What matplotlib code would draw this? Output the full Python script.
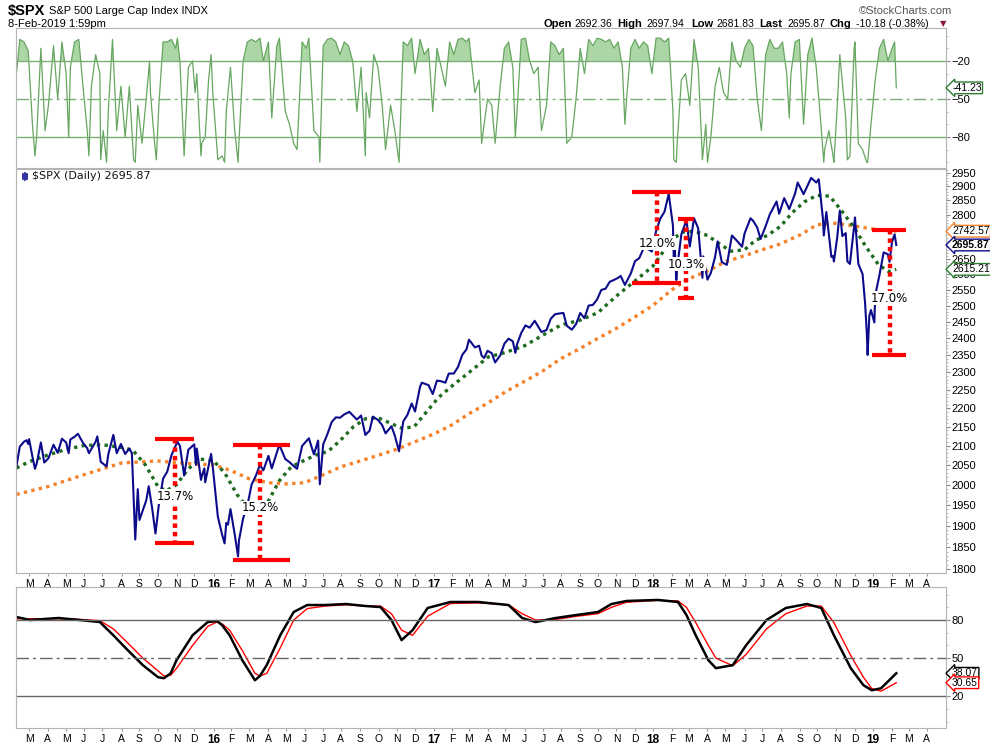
import numpy as np
import matplotlib.pyplot as plt
import matplotlib.ticker as mticker
import matplotlib.transforms as mtrans

plt.rcParams['font.family'] = ['Liberation Sans', 'DejaVu Sans']

# ---- price (close, with a few daily extremes) ----
price_dates = [
    "2015-02-09", "2015-02-13", "2015-02-20", "2015-02-25", "2015-02-27", "2015-03-02", "2015-03-06", "2015-03-11",
    "2015-03-13", "2015-03-20", "2015-03-26", "2015-04-02", "2015-04-10", "2015-04-17", "2015-04-24", "2015-05-01",
    "2015-05-06", "2015-05-08", "2015-05-15", "2015-05-21", "2015-05-29", "2015-06-05", "2015-06-09", "2015-06-19",
    "2015-06-23", "2015-06-29", "2015-07-08", "2015-07-10", "2015-07-20", "2015-07-24", "2015-07-31", "2015-08-07",
    "2015-08-14", "2015-08-19", "2015-08-21", "2015-08-25", "2015-08-28", "2015-09-01", "2015-09-11", "2015-09-16",
    "2015-09-22", "2015-09-28", "2015-10-02", "2015-10-09", "2015-10-16", "2015-10-23", "2015-11-03", "2015-11-06",
    "2015-11-13", "2015-11-20", "2015-12-01", "2015-12-03", "2015-12-04", "2015-12-11", "2015-12-14", "2015-12-17",
    "2015-12-18", "2015-12-29", "2015-12-31",
    "2016-01-08", "2016-01-15", "2016-01-20", "2016-01-22", "2016-01-26", "2016-01-29", "2016-02-05", "2016-02-11",
    "2016-02-12", "2016-02-19", "2016-02-26", "2016-03-04", "2016-03-11", "2016-03-18", "2016-03-24", "2016-04-01",
    "2016-04-07", "2016-04-15", "2016-04-20", "2016-04-29", "2016-05-06", "2016-05-13", "2016-05-19", "2016-05-27",
    "2016-06-08", "2016-06-16", "2016-06-23", "2016-06-27", "2016-07-01", "2016-07-08", "2016-07-15", "2016-07-22",
    "2016-07-29", "2016-08-05", "2016-08-15", "2016-08-26", "2016-09-02", "2016-09-09", "2016-09-16", "2016-09-22",
    "2016-09-30", "2016-10-07", "2016-10-13", "2016-10-24", "2016-10-28", "2016-11-04", "2016-11-11", "2016-11-18",
    "2016-11-25", "2016-12-01", "2016-12-09", "2016-12-13", "2016-12-23", "2016-12-30",
    "2017-01-06", "2017-01-13", "2017-01-20", "2017-01-26", "2017-02-03", "2017-02-10", "2017-02-17", "2017-02-24",
    "2017-03-01", "2017-03-10", "2017-03-17", "2017-03-22", "2017-03-27", "2017-03-31", "2017-04-07", "2017-04-13",
    "2017-04-21", "2017-04-28", "2017-05-05", "2017-05-12", "2017-05-17", "2017-05-19", "2017-05-26", "2017-06-02",
    "2017-06-09", "2017-06-19", "2017-06-29", "2017-07-07", "2017-07-14", "2017-07-21", "2017-07-27", "2017-08-04",
    "2017-08-10", "2017-08-18", "2017-08-25", "2017-09-01", "2017-09-08", "2017-09-15", "2017-09-22", "2017-09-29",
    "2017-10-06", "2017-10-13", "2017-10-20", "2017-10-27", "2017-11-03", "2017-11-08", "2017-11-15", "2017-11-24",
    "2017-12-01", "2017-12-08", "2017-12-18", "2017-12-22", "2017-12-29",
    "2018-01-05", "2018-01-12", "2018-01-19", "2018-01-26", "2018-02-02", "2018-02-05", "2018-02-06", "2018-02-08",
    "2018-02-09", "2018-02-16", "2018-02-26", "2018-03-02", "2018-03-09", "2018-03-16", "2018-03-23", "2018-03-26",
    "2018-04-02", "2018-04-06", "2018-04-13", "2018-04-18", "2018-04-25", "2018-05-03", "2018-05-11", "2018-05-18",
    "2018-05-29", "2018-06-01", "2018-06-12", "2018-06-15", "2018-06-22", "2018-06-28", "2018-07-06", "2018-07-13",
    "2018-07-25", "2018-07-30", "2018-08-07", "2018-08-15", "2018-08-24", "2018-08-29", "2018-09-07", "2018-09-14",
    "2018-09-20", "2018-09-28", "2018-10-03", "2018-10-10", "2018-10-11", "2018-10-16", "2018-10-24", "2018-10-26",
    "2018-10-29", "2018-11-02", "2018-11-07", "2018-11-12", "2018-11-16", "2018-11-20", "2018-11-23", "2018-11-30",
    "2018-12-03", "2018-12-07", "2018-12-14", "2018-12-19", "2018-12-21", "2018-12-24", "2018-12-26", "2018-12-28",
    "2019-01-03", "2019-01-04", "2019-01-11", "2019-01-18", "2019-01-25", "2019-01-29", "2019-02-01", "2019-02-06",
    "2019-02-08"]
price_close = [
    2046, 2097, 2110, 2114, 2104, 2117, 2071, 2040,
    2053, 2108, 2056, 2067, 2102, 2081, 2118, 2108,
    2080, 2116, 2123, 2131, 2107, 2093, 2080, 2110,
    2124, 2058, 2046, 2077, 2128, 2080, 2104, 2078,
    2092, 2080, 1971, 1868, 1989, 1914, 1961, 1996,
    1943, 1882, 1951, 2015, 2033, 2075, 2110, 2099,
    2023, 2089, 2103, 2050, 2092, 2012, 2022, 2041,
    2006, 2078, 2044,
    1922, 1880, 1859, 1907, 1903, 1940, 1880, 1829,
    1865, 1918, 1948, 2000, 2022, 2050, 2036, 2073,
    2041, 2081, 2102, 2065, 2057, 2047, 2040, 2099,
    2119, 2077, 2113, 2001, 2103, 2130, 2162, 2175,
    2174, 2183, 2190, 2169, 2180, 2128, 2139, 2177,
    2168, 2154, 2132, 2151, 2126, 2085, 2164, 2182,
    2213, 2191, 2260, 2271, 2264, 2239,
    2277, 2275, 2271, 2297, 2297, 2316, 2351, 2367,
    2396, 2373, 2378, 2349, 2342, 2363, 2356, 2329,
    2349, 2384, 2399, 2391, 2357, 2382, 2416, 2439,
    2432, 2453, 2419, 2425, 2459, 2473, 2475, 2477,
    2438, 2426, 2443, 2477, 2461, 2500, 2502, 2519,
    2549, 2553, 2575, 2581, 2588, 2594, 2565, 2602,
    2642, 2652, 2690, 2683, 2674,
    2743, 2786, 2810, 2873, 2762, 2649, 2695, 2581,
    2620, 2732, 2780, 2691, 2787, 2752, 2588, 2658,
    2582, 2604, 2656, 2708, 2639, 2630, 2728, 2713,
    2690, 2735, 2787, 2779, 2755, 2716, 2760, 2801,
    2846, 2803, 2858, 2819, 2875, 2914, 2872, 2905,
    2931, 2914, 2926, 2785, 2728, 2809, 2656, 2659,
    2641, 2723, 2814, 2726, 2736, 2641, 2633, 2760,
    2790, 2633, 2600, 2507, 2417, 2351, 2468, 2486,
    2448, 2532, 2596, 2671, 2665, 2640, 2707, 2732,
    2695.87]

# ---- moving averages ----
ma50_dates = [
    "2015-02-09", "2015-03-01", "2015-04-01", "2015-05-01", "2015-06-01", "2015-07-01", "2015-08-01", "2015-08-20",
    "2015-09-10", "2015-10-01", "2015-10-15", "2015-11-01", "2015-11-20", "2015-12-10", "2016-01-01", "2016-01-20",
    "2016-02-10", "2016-03-01", "2016-03-18", "2016-04-01", "2016-04-20", "2016-05-10", "2016-06-01", "2016-06-20",
    "2016-07-10", "2016-08-01", "2016-08-20", "2016-09-10", "2016-10-01", "2016-10-20", "2016-11-10", "2016-11-30",
    "2016-12-15", "2017-01-10", "2017-02-01", "2017-03-01", "2017-04-01", "2017-05-01", "2017-06-01", "2017-07-01",
    "2017-08-01", "2017-09-01", "2017-10-01", "2017-11-01", "2017-12-01", "2018-01-01", "2018-02-01", "2018-02-20",
    "2018-03-10", "2018-04-01", "2018-04-20", "2018-05-10", "2018-06-01", "2018-06-20", "2018-07-10", "2018-08-01",
    "2018-08-20", "2018-09-10", "2018-10-01", "2018-10-20", "2018-11-10", "2018-11-30", "2018-12-20", "2019-01-10",
    "2019-01-28", "2019-02-08"]
ma50 = [
    2042, 2058, 2075, 2090, 2100, 2102, 2095, 2088,
    2050, 1995, 1985, 2000, 2040, 2065, 2060, 2030,
    1975, 1940, 1928, 1960, 2010, 2045, 2062, 2075,
    2085, 2115, 2150, 2172, 2173, 2160, 2145, 2150,
    2180, 2230, 2262, 2300, 2345, 2358, 2378, 2410,
    2440, 2455, 2478, 2530, 2578, 2625, 2715, 2740,
    2742, 2728, 2700, 2675, 2680, 2712, 2728, 2760,
    2805, 2845, 2868, 2865, 2810, 2755, 2690, 2630,
    2608, 2615.21]

ma200_dates = [
    "2015-02-09", "2015-04-01", "2015-06-01", "2015-08-01", "2015-10-01", "2015-12-01", "2016-01-01", "2016-02-01",
    "2016-03-01", "2016-04-01", "2016-05-01", "2016-06-01", "2016-07-01", "2016-08-01", "2016-09-01", "2016-10-01",
    "2016-11-01", "2016-12-01", "2017-01-01", "2017-02-01", "2017-03-01", "2017-04-01", "2017-05-01", "2017-06-01",
    "2017-07-01", "2017-08-01", "2017-09-01", "2017-10-01", "2017-11-01", "2017-12-01", "2018-01-01", "2018-02-01",
    "2018-03-01", "2018-04-01", "2018-05-01", "2018-06-01", "2018-07-01", "2018-08-01", "2018-09-01", "2018-10-01",
    "2018-11-01", "2018-12-01", "2019-01-01", "2019-02-08"]
ma200 = [
    1976, 1995, 2025, 2055, 2060, 2052, 2050, 2035,
    2015, 2005, 2002, 2005, 2025, 2045, 2060, 2075,
    2090, 2110, 2130, 2155, 2185, 2215, 2245, 2275,
    2305, 2340, 2370, 2400, 2430, 2465, 2500, 2550,
    2585, 2610, 2640, 2660, 2680, 2700, 2730, 2765,
    2770, 2760, 2750, 2742.57]

# ---- Williams %R (top panel) ----
wr_dates = [
    "2015-02-09", "2015-02-13", "2015-02-20", "2015-02-27", "2015-03-06", "2015-03-11", "2015-03-13", "2015-03-20",
    "2015-03-27", "2015-04-02", "2015-04-10", "2015-04-17", "2015-04-24", "2015-05-01", "2015-05-06", "2015-05-08",
    "2015-05-15", "2015-05-22", "2015-05-29", "2015-06-05", "2015-06-09", "2015-06-12", "2015-06-19", "2015-06-26",
    "2015-06-29", "2015-07-02", "2015-07-08", "2015-07-10", "2015-07-17", "2015-07-24", "2015-07-31", "2015-08-07",
    "2015-08-14", "2015-08-21", "2015-08-25", "2015-08-28", "2015-09-04", "2015-09-11", "2015-09-17", "2015-09-18",
    "2015-09-25", "2015-09-29", "2015-10-02", "2015-10-09", "2015-10-16", "2015-10-23", "2015-10-30", "2015-11-03",
    "2015-11-06", "2015-11-13", "2015-11-20", "2015-11-27", "2015-12-02", "2015-12-04", "2015-12-11", "2015-12-14",
    "2015-12-18", "2015-12-24", "2015-12-29", "2015-12-31",
    "2016-01-08", "2016-01-15", "2016-01-20", "2016-01-22", "2016-01-29", "2016-02-05", "2016-02-11", "2016-02-12",
    "2016-02-19", "2016-02-26", "2016-03-04", "2016-03-11", "2016-03-18", "2016-03-24", "2016-04-01", "2016-04-07",
    "2016-04-15", "2016-04-20", "2016-04-29", "2016-05-06", "2016-05-13", "2016-05-19", "2016-05-27", "2016-06-03",
    "2016-06-08", "2016-06-16", "2016-06-24", "2016-06-27", "2016-07-01", "2016-07-08", "2016-07-15", "2016-07-22",
    "2016-07-29", "2016-08-05", "2016-08-12", "2016-08-19", "2016-08-26", "2016-09-02", "2016-09-09", "2016-09-12",
    "2016-09-16", "2016-09-23", "2016-09-30", "2016-10-07", "2016-10-13", "2016-10-21", "2016-10-28", "2016-11-04",
    "2016-11-11", "2016-11-18", "2016-11-25", "2016-12-01", "2016-12-09", "2016-12-16", "2016-12-23", "2016-12-30",
    "2017-01-06", "2017-01-13", "2017-01-20", "2017-01-27", "2017-02-03", "2017-02-10", "2017-02-17", "2017-02-24",
    "2017-03-01", "2017-03-10", "2017-03-17", "2017-03-22", "2017-03-24", "2017-03-31", "2017-04-07", "2017-04-13",
    "2017-04-21", "2017-04-28", "2017-05-05", "2017-05-12", "2017-05-17", "2017-05-19", "2017-05-26", "2017-06-02",
    "2017-06-09", "2017-06-16", "2017-06-23", "2017-06-29", "2017-07-07", "2017-07-14", "2017-07-21", "2017-07-28",
    "2017-08-04", "2017-08-10", "2017-08-18", "2017-08-25", "2017-09-01", "2017-09-08", "2017-09-15", "2017-09-22",
    "2017-09-29", "2017-10-06", "2017-10-13", "2017-10-20", "2017-10-27", "2017-11-03", "2017-11-10", "2017-11-15",
    "2017-11-17", "2017-11-24", "2017-12-01", "2017-12-08", "2017-12-15", "2017-12-22", "2017-12-29",
    "2018-01-05", "2018-01-12", "2018-01-19", "2018-01-26", "2018-02-02", "2018-02-05", "2018-02-08", "2018-02-09",
    "2018-02-16", "2018-02-23", "2018-03-02", "2018-03-09", "2018-03-16", "2018-03-23", "2018-03-29", "2018-04-02",
    "2018-04-06", "2018-04-13", "2018-04-20", "2018-04-27", "2018-05-04", "2018-05-11", "2018-05-18", "2018-05-25",
    "2018-06-01", "2018-06-08", "2018-06-15", "2018-06-22", "2018-06-29", "2018-07-06", "2018-07-13", "2018-07-20",
    "2018-07-27", "2018-08-03", "2018-08-10", "2018-08-15", "2018-08-17", "2018-08-24", "2018-08-31", "2018-09-07",
    "2018-09-14", "2018-09-21", "2018-09-28", "2018-10-05", "2018-10-11", "2018-10-12", "2018-10-19", "2018-10-26",
    "2018-10-29", "2018-11-02", "2018-11-07", "2018-11-09", "2018-11-16", "2018-11-20", "2018-11-23", "2018-11-30",
    "2018-12-03", "2018-12-07", "2018-12-14", "2018-12-21", "2018-12-24", "2018-12-28",
    "2019-01-04", "2019-01-11", "2019-01-18", "2019-01-25", "2019-02-01", "2019-02-06", "2019-02-08"]
wr = [
    -30, -3, -5, -12, -70, -95, -80, -10,
    -75, -55, -8, -50, -5, -30, -80, -25,
    -5, -3, -40, -75, -95, -40, -15, -30,
    -98, -75, -100, -60, -3, -75, -40, -80,
    -40, -98, -100, -55, -85, -50, -20, -45,
    -85, -98, -55, -5, -5, -3, -10, -2,
    -20, -95, -25, -20, -45, -30, -95, -85,
    -80, -35, -15, -45,
    -98, -95, -100, -60, -25, -75, -100, -85,
    -20, -5, -3, -5, -2, -20, -5, -65,
    -8, -2, -60, -70, -85, -90, -5, -10,
    -2, -75, -80, -100, -8, -3, -2, -5,
    -15, -5, -8, -20, -60, -25, -95, -45,
    -65, -15, -25, -55, -90, -55, -75, -100,
    -5, -8, -2, -30, -3, -15, -10, -60,
    -10, -25, -40, -5, -15, -3, -2, -5,
    -2, -45, -35, -85, -75, -50, -55, -85,
    -40, -10, -5, -25, -80, -60, -3, -2,
    -20, -30, -25, -75, -55, -5, -8, -15,
    -10, -85, -80, -50, -10, -30, -3, -8,
    -2, -3, -5, -3, -10, -5, -25, -70,
    -50, -10, -3, -10, -5, -8, -30,
    -2, -2, -5, -2, -60, -98, -100, -85,
    -35, -30, -55, -3, -25, -98, -70, -100,
    -80, -40, -25, -45, -50, -5, -20, -25,
    -10, -3, -8, -50, -75, -15, -3, -10,
    -10, -5, -30, -65, -30, -5, -3, -70,
    -15, -2, -25, -65, -100, -90, -75, -95,
    -100, -55, -15, -30, -65, -98, -95, -10,
    -5, -85, -90, -100, -100, -70,
    -35, -10, -3, -20, -10, -5, -41.23]

# ---- slow stochastic style oscillator (bottom panel) ----
osc_dates = [
    "2015-02-09", "2015-03-03", "2015-04-18", "2015-05-25", "2015-06-26", "2015-07-19", "2015-08-12", "2015-09-07",
    "2015-10-01", "2015-10-12", "2015-10-22", "2015-11-02", "2015-11-27", "2015-12-23", "2016-01-07", "2016-01-15",
    "2016-01-28", "2016-02-18", "2016-03-10", "2016-03-18", "2016-03-30", "2016-04-21", "2016-05-13", "2016-06-05",
    "2016-07-05", "2016-08-09", "2016-09-12", "2016-10-05", "2016-10-24", "2016-11-09", "2016-11-26", "2016-12-22",
    "2017-01-28", "2017-03-16", "2017-05-05", "2017-05-28", "2017-06-20", "2017-07-24", "2017-08-26", "2017-10-01",
    "2017-10-24", "2017-11-17", "2018-01-09", "2018-02-12", "2018-02-26", "2018-03-13", "2018-04-03", "2018-04-16",
    "2018-05-12", "2018-06-05", "2018-07-09", "2018-08-09", "2018-09-13", "2018-10-08", "2018-10-29", "2018-11-25",
    "2018-12-15", "2018-12-29", "2019-01-15", "2019-02-08"]
osc_k = [
    82.4, 80, 81.6, 80, 78.4, 68, 56.3, 44.5,
    35, 34.2, 38, 48.4, 68, 78.4, 79.2, 76,
    68, 48.4, 32.6, 36, 44.5, 68, 86.3, 91.8,
    91.8, 92.6, 91, 90.2, 80, 64.2, 72, 89.5,
    94.2, 94.2, 91.8, 81.6, 78.4, 81.6, 84, 86.3,
    92.6, 95, 95.8, 94.2, 84, 68, 48.4, 42.1,
    44.5, 60.3, 80, 89.5, 92.6, 89.5, 68, 42.1,
    28.7, 24.7, 26.3, 38.07]
osc_d = [
    81, 81, 81, 80.5, 79.5, 73, 62, 50,
    40, 36, 36.5, 42, 60, 75, 78.5, 77,
    72, 56, 38, 36, 38, 58, 80, 89,
    91, 92, 91, 91, 85, 72, 68, 83,
    93, 93.5, 92, 85, 80, 80.5, 83, 85,
    90, 94, 95.5, 95, 90, 78, 60, 50,
    44, 53, 73, 85, 91, 91, 78, 52,
    35, 26, 24, 30.65]

# ---- hand-drawn drawdown markers ----
drop_labels = ["13.7%", "15.2%", "12.0%", "10.3%", "17.0%"]
drop_start = ["2015-09-28", "2016-02-03", "2017-11-27", "2018-02-12", "2018-12-31"]
drop_end = ["2015-12-01", "2016-05-09", "2018-02-15", "2018-03-09", "2019-02-25"]
drop_mid = ["2015-10-29", "2016-03-18", "2018-01-08", "2018-02-26", "2019-01-29"]
drop_hi = [2118, 2102, 2880, 2786, 2747]
drop_lo = [1860, 1822, 2570, 2523, 2350]

START = np.datetime64('2015-02-09')


def tday(d):
    return np.busday_count(START, np.array(d, dtype='datetime64[D]'))


NAVY = '#0b0b8c'
GREEN_MA = '#1f6b1f'
ORANGE = '#f5822a'
RED = '#ff0000'
SPINE = '#b4b4b4'

fig = plt.figure(figsize=(9.9, 7.44), dpi=100)
L, W = 16 / 990, 930 / 990
ax_top = fig.add_axes([L, (744 - 168) / 744, W, 140 / 744])
ax = fig.add_axes([L, (744 - 573) / 744, W, 404 / 744])
ax_bot = fig.add_axes([L, (744 - 728) / 744, W, 141 / 744])

xmax = tday('2019-05-02')
months = np.arange('2015-03', '2019-05', dtype='datetime64[M]')
mpos = tday(months.astype('datetime64[D]'))
letters = 'JFMAMJJASOND'
mlabels = []
for m in months:
    yr = m.astype(int) // 12 + 1970
    mo = m.astype(int) % 12
    mlabels.append(str(yr % 100) if mo == 0 else letters[mo])

for a in (ax_top, ax, ax_bot):
    a.set_xlim(-0.5, xmax)
    for s in a.spines.values():
        s.set_color(SPINE)
    a.yaxis.tick_right()
    a.tick_params(axis='y', direction='out', length=3, width=0.8, color='#888888', pad=1, labelsize=8)
    a.tick_params(axis='y', which='minor', length=1.5, width=0.6, color='#aaaaaa')
    a.tick_params(axis='x', length=2, color='#999999', pad=2, labelsize=7.5)
    a.set_xticks(mpos)
    a.set_xticklabels(mlabels)
    for t, lab in zip(a.get_xticklabels(), mlabels):
        if lab.isdigit():
            t.set_fontweight('bold')
            t.set_fontsize(8.5)
ax_top.tick_params(axis='x', length=0, labelbottom=False)

# ---- top panel: Williams %R ----
xw = tday(wr_dates)
wr_a = np.array(wr)
ax_top.fill_between(xw, wr_a, -20, where=wr_a >= -20, interpolate=True, color='#acd6a5', lw=0)
ax_top.plot(xw, wr_a, color='#66a660', lw=0.9)
for lvl, ls in ((-20, '-'), (-80, '-'), (-50, (0, (9, 3, 2, 3)))):
    ax_top.axhline(lvl, color='#7aae72', lw=1, ls=ls)
ax_top.set_ylim(-104.5, 6)
ax_top.set_yticks([-20, -50, -80])
ax_top.yaxis.set_minor_locator(mticker.FixedLocator(np.arange(-100, 1, 10)))

# ---- main panel ----
ax.plot(tday(ma200_dates), ma200, color=ORANGE, lw=2.4, ls=(0, (1, 1.3)))
ax.plot(tday(ma50_dates), ma50, color=GREEN_MA, lw=2.4, ls=(0, (1, 1.3)))
ax.plot(tday(price_dates), price_close, color=NAVY, lw=1.5)
ax.set_yscale('log')
ax.set_ylim(1791.7, 2963.5)
# the 2700 / 2750 labels sit under the value tags in the original
ax.yaxis.set_major_locator(mticker.FixedLocator(np.arange(1800, 2951, 50)))
ax.yaxis.set_major_formatter(mticker.FuncFormatter(
    lambda v, p: '' if round(v) in (2700, 2750) else f"{v:.0f}"))
ax.yaxis.set_minor_locator(mticker.FixedLocator(np.arange(1800, 2961, 10)))
ax.yaxis.set_minor_formatter(mticker.NullFormatter())

for lab, s, e, m, hi, lo in zip(drop_labels, drop_start, drop_end, drop_mid, drop_hi, drop_lo):
    xs, xe, xm = tday([s, e, m])
    ax.plot([xs, xe], [hi, hi], color=RED, lw=3, solid_capstyle='butt', zorder=5)
    ax.plot([xs, xe], [lo, lo], color=RED, lw=3, solid_capstyle='butt', zorder=5)
    ax.plot([xm, xm], [hi, lo], color=RED, lw=3.2, ls=(0, (1, 0.9)), zorder=5)
    ax.text(xm, np.sqrt(hi * lo) * 0.993, lab, ha='center', va='center', fontsize=8.5, zorder=6,
            family=['DejaVu Sans'], bbox=dict(boxstyle='square,pad=0.05', fc='white', ec='none'))

ax.text(0.0175, 0.982, '$SPX (Daily) 2695.87', transform=ax.transAxes, fontsize=8, color='#111111',
        family=['DejaVu Sans'], va='center')
for dx, h in ((0.007, 0.012), (0.0095, 0.018), (0.012, 0.012)):
    ax.plot([dx, dx], [0.982 - h / 2, 0.982 + h / 2], transform=ax.transAxes, color=NAVY, lw=1.2)

# ---- bottom panel ----
xo = tday(osc_dates)
ax_bot.plot(xo, osc_d, color=RED, lw=1)
ax_bot.plot(xo, osc_k, color='black', lw=1.8)
for lvl, ls in ((80, '-'), (20, '-'), (50, (0, (9, 3, 2, 3)))):
    ax_bot.axhline(lvl, color='#666666', lw=1, ls=ls)
ax_bot.set_ylim(-5, 106)
ax_bot.set_yticks([20, 50, 80])
ax_bot.yaxis.set_minor_locator(mticker.FixedLocator(np.arange(0, 101, 10)))


def tag(a, y, s, color, weight='normal'):
    tr = mtrans.blended_transform_factory(a.transAxes, a.transData)
    a.text(1.0065, y, s, transform=tr, ha='left', va='center', fontsize=7.5, color='black',
           weight=weight, zorder=10, clip_on=False,
           bbox=dict(boxstyle='larrow,pad=0.08', fc='white', ec=color, lw=1))


tag(ax_top, wr[-1], f"{wr[-1]:.2f}", '#2e7d32')
tag(ax, ma200[-1], f"{ma200[-1]:.2f}", ORANGE)
tag(ax, price_close[-1], f"{price_close[-1]:.2f}", NAVY, 'bold')
tag(ax, ma50[-1], f"{ma50[-1]:.2f}", '#2e7d32')
tag(ax_bot, osc_k[-1], f"{osc_k[-1]:.2f}", 'black')
tag(ax_bot, osc_d[-1], f"{osc_d[-1]:.2f}", RED)


# ---- header ----
def ftxt(x, y, s, **kw):
    fig.text(x / 990, 1 - y / 744, s, va='center', **kw)


ftxt(8, 11, '$SPX', fontsize=10.5, weight='bold')
ftxt(49, 11, 'S&P 500 Large Cap Index INDX', fontsize=8)
ftxt(8, 24, '8-Feb-2019 1:59pm', fontsize=8)
ftxt(952, 11, '\u00a9StockCharts.com', fontsize=8, ha='right', color='#555555')
hdr = [(543, 'Open', 574, '2692.36'), (617, 'High', 646, '2697.94'), (691, 'Low', 716, '2681.83'),
       (759, 'Last', 787, '2695.87'), (830, 'Chg', 856, '-10.18 (-0.38%)')]
for xl, lab, xv, val in hdr:
    ftxt(xl, 24, lab, fontsize=8, weight='bold')
    ftxt(xv, 24, val, fontsize=7.5)
ftxt(940, 24, '\u25bc', fontsize=6, color='#8b1a3a', family=['DejaVu Sans'])

fig.savefig('out.png', dpi=100)
